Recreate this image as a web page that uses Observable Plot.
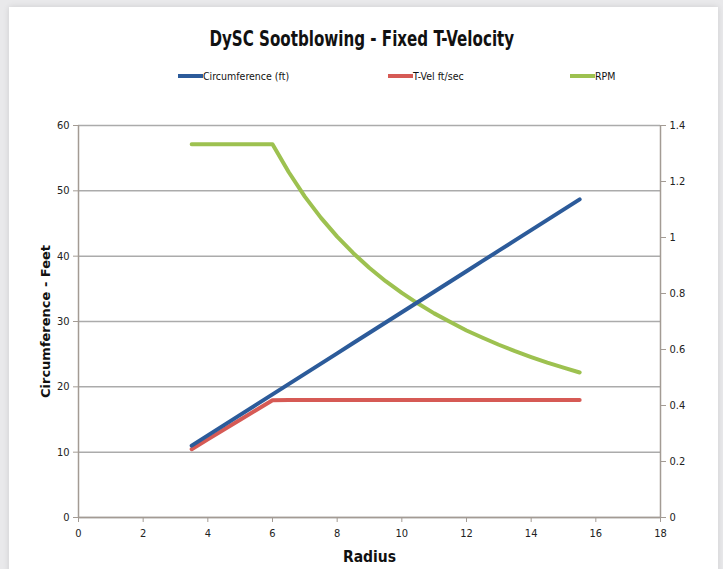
<!DOCTYPE html>
<html>
<head>
<meta charset="utf-8">
<script src="https://cdn.jsdelivr.net/npm/d3@7"></script>
<script src="https://cdn.jsdelivr.net/npm/@observablehq/plot@0.6"></script>
<style>
  html, body { margin: 0; padding: 0; }
  body { width: 723px; height: 569px; background: #e9e9eb; position: relative; overflow: hidden;
         font-family: "DejaVu Sans Condensed", "Liberation Sans", sans-serif; }
  #card { position: absolute; left: 9px; top: 7px; width: 709px; height: 600px; background: #fff;
          box-shadow: 0 0 6px rgba(0,0,0,0.12); }
  #title { position: absolute; left: 0; width: 723px; top: 27px; text-align: center;
           font-size: 21px; font-weight: bold; color: #111; transform: scaleX(0.8); transform-origin: 363px 0; }
  .leg { position: absolute; top: 70px; font-size: 10.5px; color: #111; display: flex; align-items: center; white-space: nowrap; }
  .sw { display: inline-block; width: 25px; height: 4px; }
  #chart { position: absolute; left: 0; top: 95px; }
  #chart svg { overflow: visible; }
  g[aria-label="x-axis label"] text { font-size: 15.5px; font-weight: bold; fill: #111; }
  g[aria-label="y-axis label"] text { font-size: 13px; font-weight: bold; fill: #111; font-family: "DejaVu Sans", sans-serif; }
</style>
</head>
<body>
<div id="card"></div>
<div id="title">DySC Sootblowing - Fixed T-Velocity</div>
<div class="leg" style="left:178px"><span class="sw" style="background:#2c5b9a"></span>Circumference (ft)</div>
<div class="leg" style="left:388px"><span class="sw" style="background:#d65a55"></span>T-Vel ft/sec</div>
<div class="leg" style="left:570px"><span class="sw" style="background:#9dc150"></span>RPM</div>
<div id="chart"></div>
<script>
// Data
const radius = [3.5,4,4.5,5,5.5,6,6.5,7,7.5,8,8.5,9,9.5,10,10.5,11,11.5,12,12.5,13,13.5,14,14.5,15,15.5];
const circumference = [11.0,12.57,14.14,15.71,17.28,18.85,20.42,21.99,23.56,25.13,26.70,28.27,29.85,31.42,32.99,34.56,36.13,37.70,39.27,40.84,42.41,43.98,45.55,47.12,48.69];
const tVel = [0.244,0.279,0.314,0.349,0.384,0.419,0.42,0.42,0.42,0.42,0.42,0.42,0.42,0.42,0.42,0.42,0.42,0.42,0.42,0.42,0.42,0.42,0.42,0.42,0.42];
const rpm = [1.333,1.333,1.333,1.333,1.333,1.333,1.234,1.146,1.070,1.003,0.944,0.891,0.844,0.802,0.764,0.729,0.698,0.668,0.642,0.617,0.594,0.573,0.553,0.535,0.518];

const xTicks = [0,2,4,6,8,10,12,14,16,18];
const leftTicks = [0,10,20,30,40,50,60];
const rightTicks = [0,0.2,0.4,0.6,0.8,1,1.2,1.4];
const leftMax = 60, rightMax = 1.4;
const k = leftMax / rightMax;

const circData = radius.map((r, i) => ({r, v: circumference[i]}));
const tvData = radius.map((r, i) => ({r, v: tVel[i] * k}));
const rpmData = radius.map((r, i) => ({r, v: rpm[i] * k}));

const axisColor = "#a39b94";
const gridColor = "#ababab";

const chart = Plot.plot({
  width: 723,
  height: 474,
  marginLeft: 78,
  marginRight: 63,
  marginTop: 30,
  marginBottom: 52,
  style: {fontFamily: '"DejaVu Sans Condensed", "Liberation Sans", sans-serif', fontSize: "11px", color: "#222", background: "transparent"},
  x: {domain: [0, 18]},
  y: {domain: [0, leftMax]},
  marks: [
    Plot.gridY(leftTicks, {stroke: gridColor, strokeOpacity: 1, strokeWidth: 1.5}),
    Plot.ruleX([0, 18], {stroke: axisColor, strokeWidth: 1.5}),
    Plot.ruleY([0], {stroke: axisColor, strokeWidth: 1.5}),
    Plot.axisX(xTicks, {tickSize: 5, tickPadding: 7, stroke: axisColor, label: "Radius", labelAnchor: "center", labelArrow: "none", labelOffset: 44}),
    Plot.axisY(leftTicks, {anchor: "left", tickSize: 5, tickPadding: 4, stroke: axisColor, label: "Circumference - Feet", labelAnchor: "center", labelArrow: "none", labelOffset: 38}),
    Plot.axisY(rightTicks.map(d => d * k), {anchor: "right", tickSize: 5, tickPadding: 4, stroke: axisColor, label: null,
      tickFormat: d => String(+(d / k).toFixed(1))}),
    Plot.line(tvData, {x: "r", y: "v", stroke: "#d65a55", strokeWidth: 4, strokeLinecap: "round", strokeLinejoin: "round"}),
    Plot.line(rpmData, {x: "r", y: "v", stroke: "#9dc150", strokeWidth: 4, strokeLinecap: "round", strokeLinejoin: "round"}),
    Plot.line(circData, {x: "r", y: "v", stroke: "#2c5b9a", strokeWidth: 4, strokeLinecap: "round", strokeLinejoin: "round"})
  ]
});
document.getElementById("chart").appendChild(chart);
</script>
</body>
</html>
